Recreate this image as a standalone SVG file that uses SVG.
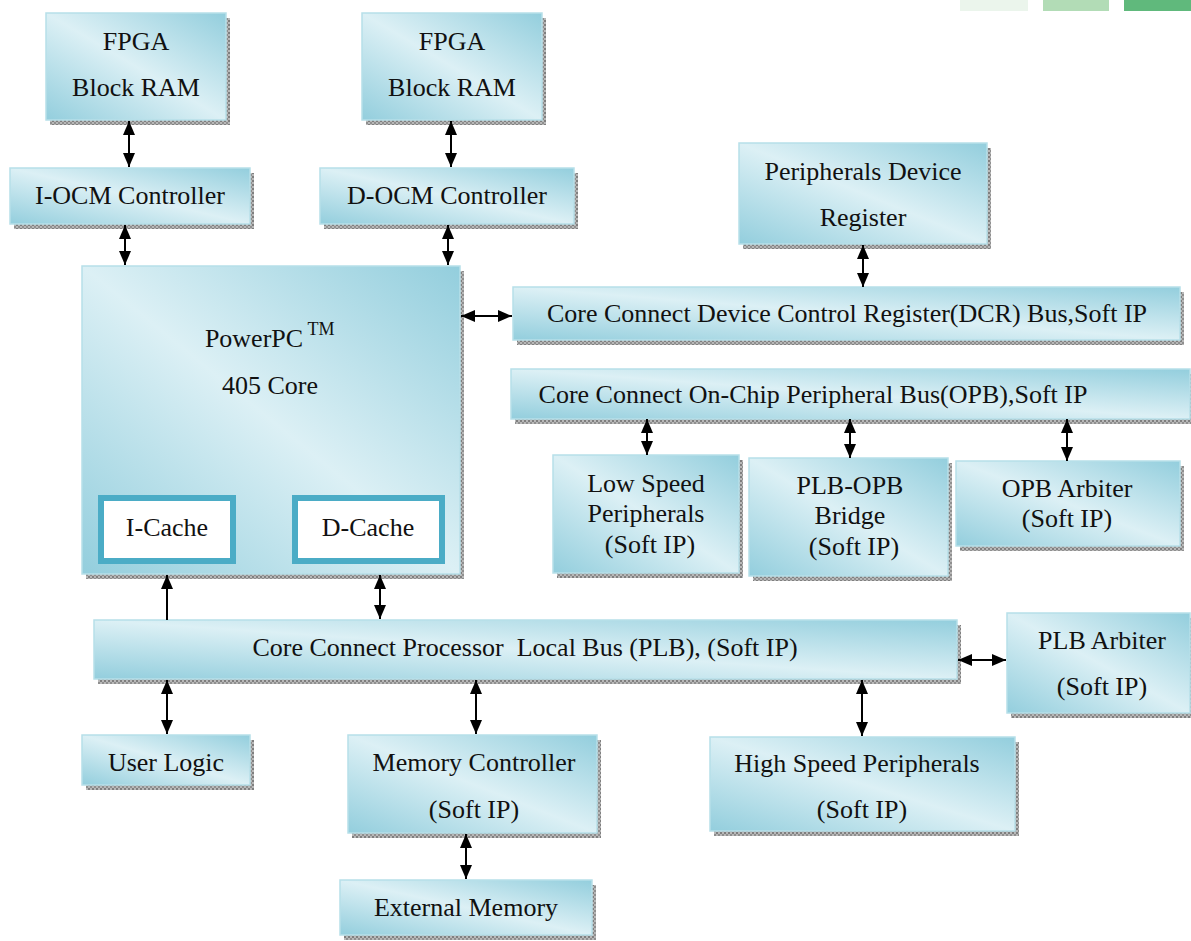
<svg xmlns="http://www.w3.org/2000/svg" width="1191" height="941" viewBox="0 0 1191 941">
<style>
.box{fill:url(#g);stroke:#b7dfe9;stroke-width:1.5}
.sh{fill:url(#dots)}
.t{font-family:"Liberation Serif","Times New Roman",serif;font-size:26px;fill:#111;text-anchor:middle}
.c{fill:#fff;stroke:#4bacc6;stroke-width:6}
.ln{stroke:#000;stroke-width:2;fill:none}
</style>
<defs>
<linearGradient id="g" x1="1" y1="0" x2="0" y2="1">
<stop offset="0" stop-color="#93cedd"/>
<stop offset="0.5" stop-color="#dcf0f5"/>
<stop offset="1" stop-color="#93cedd"/>
</linearGradient>
<pattern id="dots" width="4" height="4" patternUnits="userSpaceOnUse">
<rect width="4" height="4" fill="#b8b8b8"/>
<rect width="2" height="2" fill="#7f7f7f"/>
<rect x="2" y="2" width="2" height="2" fill="#8f8f8f"/>
</pattern>
<marker id="a" viewBox="0 0 14 12" refX="14" refY="6" markerWidth="14" markerHeight="12" markerUnits="userSpaceOnUse" orient="auto-start-reverse">
<path d="M0,0 L14,6 L0,12 Z" fill="#000"/>
</marker>
</defs>
<rect x="0" y="0" width="1191" height="941" fill="#fff"/>
<g id="deco">
<rect x="960" y="0" width="68" height="11" fill="#ebf5ec"/>
<rect x="1043" y="0" width="66" height="11" fill="#b2dcb6"/>
<rect x="1124" y="0" width="67" height="11" fill="#60b97c"/>
</g>
<g id="fpga1">
<rect class="sh" x="50" y="18" width="180" height="107"/>
<rect class="box" x="46" y="13" width="180" height="107"/>
<text class="t" x="136" y="50">FPGA</text>
<text class="t" x="136" y="96">Block RAM</text>
</g>
<g id="fpga2">
<rect class="sh" x="366" y="18" width="180" height="107"/>
<rect class="box" x="362" y="13" width="180" height="107"/>
<text class="t" x="452" y="50">FPGA</text>
<text class="t" x="452" y="96">Block RAM</text>
</g>
<g id="iocm">
<rect class="sh" x="14" y="173" width="240" height="56"/>
<rect class="box" x="10" y="168" width="240" height="56"/>
<text class="t" x="130" y="204">I-OCM Controller</text>
</g>
<g id="docm">
<rect class="sh" x="324" y="173" width="254" height="56"/>
<rect class="box" x="320" y="168" width="254" height="56"/>
<text class="t" x="447" y="204">D-OCM Controller</text>
</g>
<g id="pdr">
<rect class="sh" x="743" y="148" width="248" height="101"/>
<rect class="box" x="739" y="143" width="248" height="101"/>
<text class="t" x="863" y="180">Peripherals Device</text>
<text class="t" x="863" y="226">Register</text>
</g>
<g id="ppc">
<rect class="sh" x="86" y="271" width="378" height="308"/>
<rect class="box" x="82" y="266" width="378" height="308"/>
<text class="t" x="254" y="347">PowerPC</text>
<text class="t" x="321" y="335" style="font-size:18px">TM</text>
<text class="t" x="270" y="394">405 Core</text>
</g>
<g id="icache">
<rect class="c" x="101" y="498" width="132" height="63"/>
<text class="t" x="167" y="536">I-Cache</text>
</g>
<g id="dcache">
<rect class="c" x="295" y="498" width="147" height="63"/>
<text class="t" x="368" y="536">D-Cache</text>
</g>
<g id="dcr">
<rect class="sh" x="517" y="292" width="667" height="53"/>
<rect class="box" x="513" y="287" width="667" height="53"/>
<text class="t" x="847" y="322">Core Connect Device Control Register(DCR) Bus,Soft IP</text>
</g>
<g id="opb">
<rect class="sh" x="515" y="374" width="679" height="50"/>
<rect class="box" x="511" y="369" width="679" height="50"/>
<text class="t" x="813" y="403">Core Connect On-Chip Peripheral Bus(OPB),Soft IP</text>
</g>
<g id="lsp">
<rect class="sh" x="557" y="460" width="186" height="118"/>
<rect class="box" x="553" y="455" width="186" height="118"/>
<text class="t" x="646" y="492">Low Speed</text>
<text class="t" x="646" y="522">Peripherals</text>
<text class="t" x="650" y="553">(Soft IP)</text>
</g>
<g id="bridge">
<rect class="sh" x="753" y="463" width="199" height="118"/>
<rect class="box" x="749" y="458" width="199" height="118"/>
<text class="t" x="850" y="494">PLB-OPB</text>
<text class="t" x="850" y="524">Bridge</text>
<text class="t" x="854" y="555">(Soft IP)</text>
</g>
<g id="opbarb">
<rect class="sh" x="960" y="466" width="224" height="85"/>
<rect class="box" x="956" y="461" width="224" height="85"/>
<text class="t" x="1067" y="497">OPB Arbiter</text>
<text class="t" x="1067" y="527">(Soft IP)</text>
</g>
<g id="plb">
<rect class="sh" x="98" y="625" width="863" height="59"/>
<rect class="box" x="94" y="620" width="863" height="59"/>
<text class="t" x="525" y="656" xml:space="preserve">Core Connect Processor  Local Bus (PLB), (Soft IP)</text>
</g>
<g id="plbarb">
<rect class="sh" x="1011" y="618" width="183" height="100"/>
<rect class="box" x="1007" y="613" width="183" height="100"/>
<text class="t" x="1102" y="649">PLB Arbiter</text>
<text class="t" x="1102" y="695">(Soft IP)</text>
</g>
<g id="userlogic">
<rect class="sh" x="86" y="740" width="168" height="50"/>
<rect class="box" x="82" y="735" width="168" height="50"/>
<text class="t" x="166" y="771">User Logic</text>
</g>
<g id="memctrl">
<rect class="sh" x="352" y="740" width="249" height="98"/>
<rect class="box" x="348" y="735" width="249" height="98"/>
<text class="t" x="474" y="771">Memory Controller</text>
<text class="t" x="474" y="818">(Soft IP)</text>
</g>
<g id="hsp">
<rect class="sh" x="714" y="742" width="305" height="94"/>
<rect class="box" x="710" y="737" width="305" height="94"/>
<text class="t" x="857" y="772">High Speed Peripherals</text>
<text class="t" x="862" y="818">(Soft IP)</text>
</g>
<g id="extmem">
<rect class="sh" x="344" y="885" width="252" height="55"/>
<rect class="box" x="340" y="880" width="252" height="55"/>
<text class="t" x="466" y="916">External Memory</text>
</g>
<g id="connectors">
<line class="ln" x1="129" y1="121" x2="129" y2="167" marker-start="url(#a)" marker-end="url(#a)"/>
<line class="ln" x1="451" y1="121" x2="451" y2="167" marker-start="url(#a)" marker-end="url(#a)"/>
<line class="ln" x1="125" y1="225" x2="125" y2="265" marker-start="url(#a)" marker-end="url(#a)"/>
<line class="ln" x1="448" y1="225" x2="448" y2="265" marker-start="url(#a)" marker-end="url(#a)"/>
<line class="ln" x1="863" y1="245" x2="863" y2="287" marker-start="url(#a)" marker-end="url(#a)"/>
<line class="ln" x1="461" y1="316" x2="512" y2="316" marker-start="url(#a)" marker-end="url(#a)"/>
<line class="ln" x1="647" y1="419" x2="647" y2="455" marker-start="url(#a)" marker-end="url(#a)"/>
<line class="ln" x1="850" y1="419" x2="850" y2="458" marker-start="url(#a)" marker-end="url(#a)"/>
<line class="ln" x1="1067" y1="419" x2="1067" y2="461" marker-start="url(#a)" marker-end="url(#a)"/>
<line class="ln" x1="167" y1="620" x2="167" y2="575" marker-end="url(#a)"/>
<line class="ln" x1="380" y1="575" x2="380" y2="619" marker-start="url(#a)" marker-end="url(#a)"/>
<line class="ln" x1="167" y1="680" x2="167" y2="734" marker-start="url(#a)" marker-end="url(#a)"/>
<line class="ln" x1="476" y1="680" x2="476" y2="734" marker-start="url(#a)" marker-end="url(#a)"/>
<line class="ln" x1="862" y1="680" x2="862" y2="736" marker-start="url(#a)" marker-end="url(#a)"/>
<line class="ln" x1="958" y1="660" x2="1006" y2="660" marker-start="url(#a)" marker-end="url(#a)"/>
<line class="ln" x1="466" y1="834" x2="466" y2="879" marker-start="url(#a)" marker-end="url(#a)"/>
</g>
</svg>
